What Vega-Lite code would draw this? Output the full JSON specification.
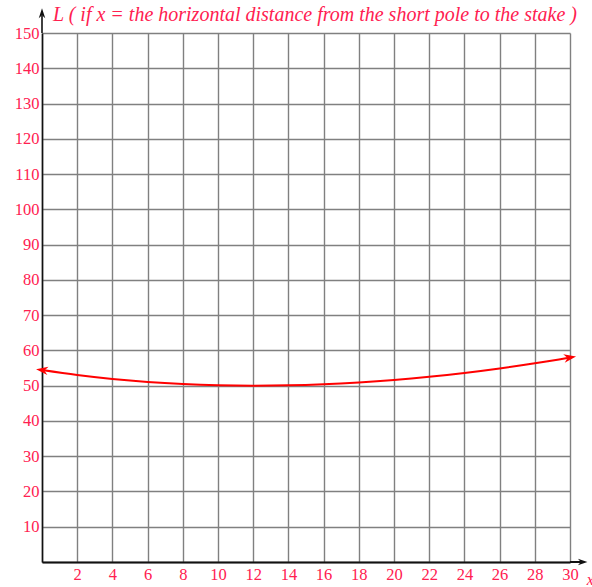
{
  "$schema": "https://vega.github.io/schema/vega-lite/v6.json",
  "width": 528,
  "height": 529,
  "autosize": {"type": "none"},
  "padding": {"left": 42, "top": 33, "right": 22, "bottom": 25},
  "background": "white",
  "config": {
    "view": {"stroke": null},
    "axis": {
      "labelFont": "Liberation Serif",
      "labelFontSize": 16.5,
      "labelColor": "#ff2050",
      "labelOverlap": false,
      "labelFlush": false,
      "gridColor": "#808080",
      "gridWidth": 1.4,
      "gridOpacity": 1,
      "domainColor": "#111111",
      "domainWidth": 1.6,
      "ticks": false,
      "title": null,
      "labelExpr": "datum.value == 0 ? '' : datum.label"
    },
    "axisX": {"labelPadding": 4, "domainWidth": 2},
    "axisY": {"labelPadding": 3}
  },
  "datasets": {
    "curve": [
      {"x": 0, "L": 54.42},
      {"x": 2, "L": 53.0},
      {"x": 4, "L": 51.88},
      {"x": 6, "L": 51.03},
      {"x": 8, "L": 50.45},
      {"x": 10, "L": 50.11},
      {"x": 12, "L": 50.0},
      {"x": 14, "L": 50.1},
      {"x": 16, "L": 50.41},
      {"x": 18, "L": 50.92},
      {"x": 20, "L": 51.61},
      {"x": 22, "L": 52.5},
      {"x": 24, "L": 53.58},
      {"x": 26, "L": 54.86},
      {"x": 28, "L": 56.33},
      {"x": 30, "L": 58.0}
    ],
    "one": [{"id": 1}]
  },
  "layer": [
    {
      "data": {"name": "curve"},
      "mark": {"type": "line", "color": "#ff0000", "strokeWidth": 2, "interpolate": "monotone", "clip": false},
      "encoding": {
        "x": {"field": "x", "type": "quantitative", "scale": {"domain": [0, 30], "nice": false, "zero": false}, "axis": {"values": [0, 2, 4, 6, 8, 10, 12, 14, 16, 18, 20, 22, 24, 26, 28, 30]}},
        "y": {"field": "L", "type": "quantitative", "scale": {"domain": [0, 150], "nice": false}, "axis": {"values": [0, 10, 20, 30, 40, 50, 60, 70, 80, 90, 100, 110, 120, 130, 140, 150]}}
      }
    },
    {
      "data": {"name": "curve"},
      "transform": [{"filter": "datum.x == 0"}],
      "mark": {"type": "point", "shape": "M 1 0 L -1 -0.7 L -0.4 0 L -1 0.7 Z", "filled": true, "color": "#ff0000", "opacity": 1, "size": 144, "angle": 188, "clip": false},
      "encoding": {
        "x": {"field": "x", "type": "quantitative", "axis": {"values": [0, 2, 4, 6, 8, 10, 12, 14, 16, 18, 20, 22, 24, 26, 28, 30]}},
        "y": {"field": "L", "type": "quantitative", "axis": {"values": [0, 10, 20, 30, 40, 50, 60, 70, 80, 90, 100, 110, 120, 130, 140, 150]}}
      }
    },
    {
      "data": {"name": "curve"},
      "transform": [{"filter": "datum.x == 30"}],
      "mark": {"type": "point", "shape": "M 1 0 L -1 -0.7 L -0.4 0 L -1 0.7 Z", "filled": true, "color": "#ff0000", "opacity": 1, "size": 150, "angle": 350, "clip": false},
      "encoding": {
        "x": {"field": "x", "type": "quantitative", "axis": {"values": [0, 2, 4, 6, 8, 10, 12, 14, 16, 18, 20, 22, 24, 26, 28, 30]}},
        "y": {"field": "L", "type": "quantitative", "axis": {"values": [0, 10, 20, 30, 40, 50, 60, 70, 80, 90, 100, 110, 120, 130, 140, 150]}}
      }
    },
    {
      "data": {"name": "one"},
      "mark": {"type": "rule", "color": "#111111", "strokeWidth": 1.6, "clip": false},
      "encoding": {
        "x": {"datum": 0, "type": "quantitative", "axis": {"values": [0, 2, 4, 6, 8, 10, 12, 14, 16, 18, 20, 22, 24, 26, 28, 30]}},
        "y": {"datum": 150, "type": "quantitative", "axis": {"values": [0, 10, 20, 30, 40, 50, 60, 70, 80, 90, 100, 110, 120, 130, 140, 150]}},
        "y2": {"datum": 155}
      }
    },
    {
      "data": {"name": "one"},
      "mark": {"type": "point", "shape": "M 0 -1 L 0.65 1 L 0 0.4 L -0.65 1 Z", "filled": true, "color": "#111111", "opacity": 1, "size": 100, "clip": false},
      "encoding": {
        "x": {"datum": 0, "type": "quantitative", "axis": {"values": [0, 2, 4, 6, 8, 10, 12, 14, 16, 18, 20, 22, 24, 26, 28, 30]}},
        "y": {"datum": 155.6, "type": "quantitative", "axis": {"values": [0, 10, 20, 30, 40, 50, 60, 70, 80, 90, 100, 110, 120, 130, 140, 150]}}
      }
    },
    {
      "data": {"name": "one"},
      "mark": {"type": "rule", "color": "#111111", "strokeWidth": 2, "clip": false},
      "encoding": {
        "x": {"datum": 30, "type": "quantitative", "axis": {"values": [0, 2, 4, 6, 8, 10, 12, 14, 16, 18, 20, 22, 24, 26, 28, 30]}},
        "x2": {"datum": 30.7},
        "y": {"datum": 0, "type": "quantitative", "axis": {"values": [0, 10, 20, 30, 40, 50, 60, 70, 80, 90, 100, 110, 120, 130, 140, 150]}}
      }
    },
    {
      "data": {"name": "one"},
      "mark": {"type": "point", "shape": "M 1 0 L -1 -0.7 L -0.4 0 L -1 0.7 Z", "filled": true, "color": "#111111", "opacity": 1, "size": 90, "clip": false},
      "encoding": {
        "x": {"datum": 30.72, "type": "quantitative", "axis": {"values": [0, 2, 4, 6, 8, 10, 12, 14, 16, 18, 20, 22, 24, 26, 28, 30]}},
        "y": {"datum": 0, "type": "quantitative", "axis": {"values": [0, 10, 20, 30, 40, 50, 60, 70, 80, 90, 100, 110, 120, 130, 140, 150]}}
      }
    },
    {
      "data": {"name": "one"},
      "mark": {"type": "text", "text": "x", "font": "Liberation Serif", "fontStyle": "italic", "fontSize": 16, "color": "#ff2050", "align": "left", "baseline": "middle", "clip": false},
      "encoding": {
        "x": {"datum": 30.95, "type": "quantitative", "axis": {"values": [0, 2, 4, 6, 8, 10, 12, 14, 16, 18, 20, 22, 24, 26, 28, 30]}},
        "y": {"datum": -5, "type": "quantitative", "axis": {"values": [0, 10, 20, 30, 40, 50, 60, 70, 80, 90, 100, 110, 120, 130, 140, 150]}}
      }
    },
    {
      "data": {"name": "one"},
      "mark": {"type": "text", "text": "L ( if x = the horizontal distance from the short pole to the stake )", "font": "Liberation Serif", "fontStyle": "italic", "fontWeight": "normal", "fontSize": 20, "color": "#ff2050", "align": "left", "baseline": "alphabetic", "clip": false},
      "encoding": {
        "x": {"datum": 0.62, "type": "quantitative", "axis": {"values": [0, 2, 4, 6, 8, 10, 12, 14, 16, 18, 20, 22, 24, 26, 28, 30]}},
        "y": {"datum": 153.4, "type": "quantitative", "axis": {"values": [0, 10, 20, 30, 40, 50, 60, 70, 80, 90, 100, 110, 120, 130, 140, 150]}}
      }
    }
  ]
}
